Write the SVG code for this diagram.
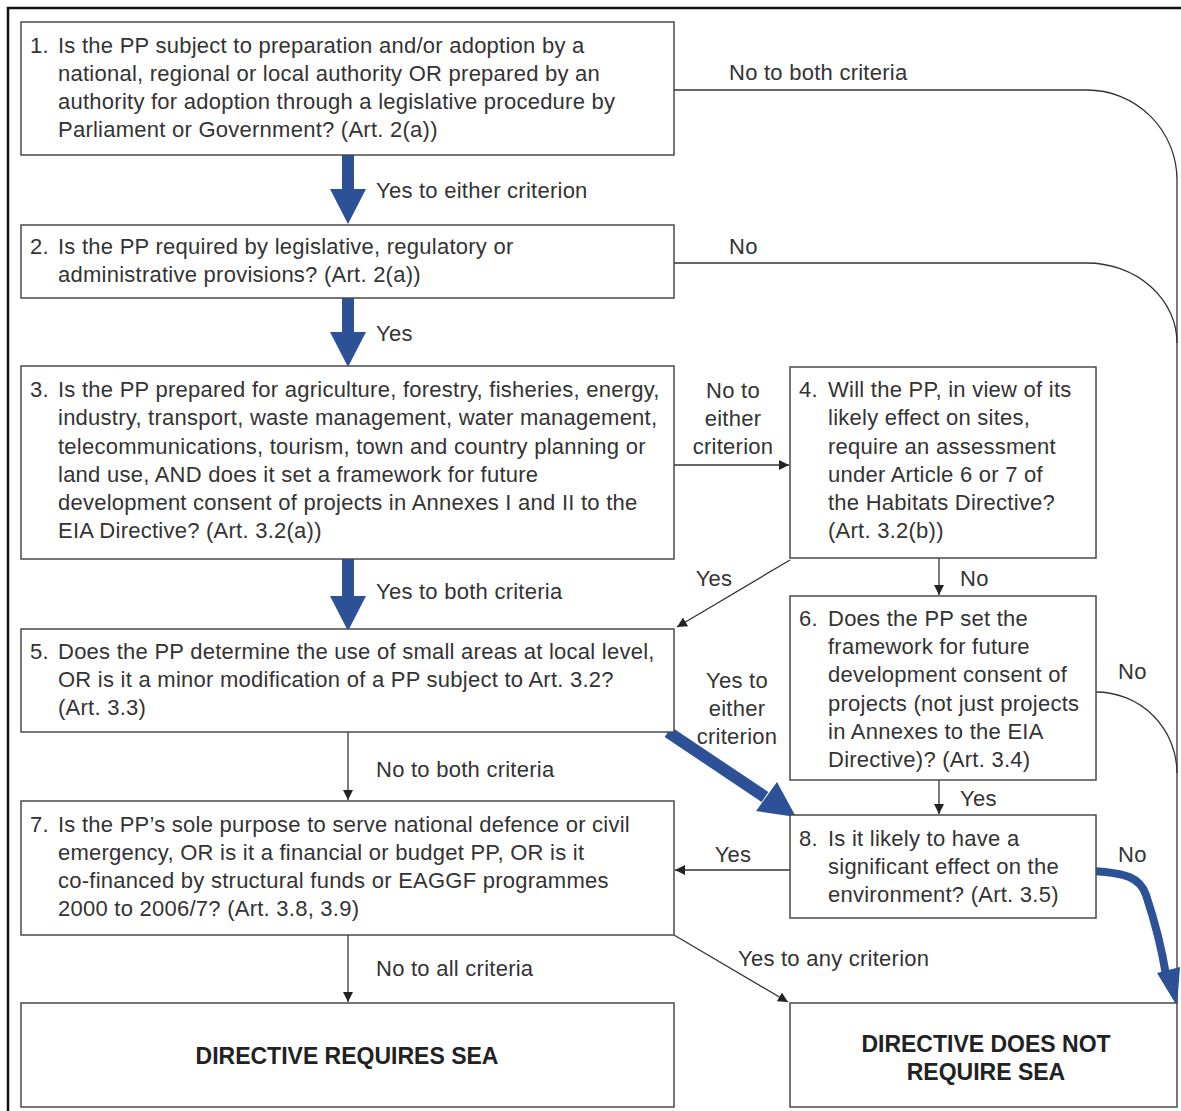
<svg xmlns="http://www.w3.org/2000/svg" width="1181" height="1111" viewBox="0 0 1181 1111">
<style>
.box{fill:#fff;stroke:#4a4a4a;stroke-width:1.5}
.t{font-family:"Liberation Sans",Arial,sans-serif;font-size:22px;letter-spacing:0.25px;fill:#333}
.b{font-family:"Liberation Sans",Arial,sans-serif;font-size:23px;font-weight:bold;fill:#222}
.c{text-anchor:middle}
.ln{fill:none;stroke:#333;stroke-width:1.3}
.bl{fill:#2c5196;stroke:none}
</style>
<defs>
<marker id="ah" viewBox="0 0 10 10" refX="10" refY="5" markerWidth="10" markerHeight="10" markerUnits="userSpaceOnUse" orient="auto">
<path d="M0,0 L10,5 L0,10 z" fill="#222"/>
</marker>
</defs>
<rect width="1181" height="1111" fill="#fff"/>
<path d="M8,1111 V8 H1181" fill="none" stroke="#111" stroke-width="2.5"/>

<g id="connectors">
<path class="ln" d="M674,90 H1087 A90,90 0 0 1 1177,180 V1003"/>
<path class="ln" d="M674,263 H1087 A90,80 0 0 1 1177,343"/>
<path class="ln" d="M1096,692 A81,81 0 0 1 1177,773"/>
<path class="ln" d="M674,465 H789" marker-end="url(#ah)"/>
<path class="ln" d="M790,560 L677,627" marker-end="url(#ah)"/>
<path class="ln" d="M939,558 V595" marker-end="url(#ah)"/>
<path class="ln" d="M939,780 V814" marker-end="url(#ah)"/>
<path class="ln" d="M790,870 H675" marker-end="url(#ah)"/>
<path class="ln" d="M348,732 V800" marker-end="url(#ah)"/>
<path class="ln" d="M348,935 V1002" marker-end="url(#ah)"/>
<path class="ln" d="M674,935 L788,1002" marker-end="url(#ah)"/>
<path class="bl" d="M342,155 H354 V189 H366 L348,224 L330,189 H342 Z"/>
<path class="bl" d="M342,298 H354 V332 H366 L348,367 L330,332 H342 Z"/>
<path class="bl" d="M342,559 H354 V596 H366 L348,631 L330,596 H342 Z"/>
<path d="M668,732 L765,797" stroke="#2c5196" stroke-width="12" fill="none"/>
<path class="bl" d="M756,811 L777,782 L796,817 Z"/>
<path d="M1093,871 C1125,873 1140,877 1146,895 C1156,925 1162,950 1166,975" stroke="#2c5196" stroke-width="8" fill="none"/>
<path class="bl" d="M1157,973 L1180,967 L1177,1006 Z"/>
</g>

<g id="n1">
<rect class="box" x="21" y="22" width="653" height="133"/>
<text class="t" x="30" y="53">1.</text>
<text class="t" x="58" y="53">Is the PP subject to preparation and/or adoption by a</text>
<text class="t" x="58" y="81">national, regional or local authority OR prepared by an</text>
<text class="t" x="58" y="109">authority for adoption through a legislative procedure by</text>
<text class="t" x="58" y="137">Parliament or Government? (Art. 2(a))</text>
</g>
<g id="n2">
<rect class="box" x="21" y="225" width="653" height="73"/>
<text class="t" x="30" y="254">2.</text>
<text class="t" x="58" y="254">Is the PP required by legislative, regulatory or</text>
<text class="t" x="58" y="282">administrative provisions? (Art. 2(a))</text>
</g>
<g id="n3">
<rect class="box" x="21" y="366" width="653" height="193"/>
<text class="t" x="30" y="397">3.</text>
<text class="t" x="58" y="397">Is the PP prepared for agriculture, forestry, fisheries, energy,</text>
<text class="t" x="58" y="425">industry, transport, waste management, water management,</text>
<text class="t" x="58" y="454">telecommunications, tourism, town and country planning or</text>
<text class="t" x="58" y="482">land use, AND does it set a framework for future</text>
<text class="t" x="58" y="510">development consent of projects in Annexes I and II to the</text>
<text class="t" x="58" y="538">EIA Directive? (Art. 3.2(a))</text>
</g>
<g id="n4">
<rect class="box" x="790" y="367" width="306" height="191"/>
<text class="t" x="799" y="397">4.</text>
<text class="t" x="828" y="397">Will the PP, in view of its</text>
<text class="t" x="828" y="425">likely effect on sites,</text>
<text class="t" x="828" y="454">require an assessment</text>
<text class="t" x="828" y="482">under Article 6 or 7 of</text>
<text class="t" x="828" y="510">the Habitats Directive?</text>
<text class="t" x="828" y="538">(Art. 3.2(b))</text>
</g>
<g id="n5">
<rect class="box" x="21" y="629" width="653" height="103"/>
<text class="t" x="30" y="659">5.</text>
<text class="t" x="58" y="659">Does the PP determine the use of small areas at local level,</text>
<text class="t" x="58" y="687">OR is it a minor modification of a PP subject to Art. 3.2?</text>
<text class="t" x="58" y="715">(Art. 3.3)</text>
</g>
<g id="n6">
<rect class="box" x="790" y="596" width="306" height="184"/>
<text class="t" x="799" y="626">6.</text>
<text class="t" x="828" y="626">Does the PP set the</text>
<text class="t" x="828" y="654">framework for future</text>
<text class="t" x="828" y="682">development consent of</text>
<text class="t" x="828" y="711">projects (not just projects</text>
<text class="t" x="828" y="739">in Annexes to the EIA</text>
<text class="t" x="828" y="767">Directive)? (Art. 3.4)</text>
</g>
<g id="n7">
<rect class="box" x="21" y="801" width="653" height="134"/>
<text class="t" x="30" y="832">7.</text>
<text class="t" x="58" y="832">Is the PP’s sole purpose to serve national defence or civil</text>
<text class="t" x="58" y="860">emergency, OR is it a financial or budget PP, OR is it</text>
<text class="t" x="58" y="888">co-financed by structural funds or EAGGF programmes</text>
<text class="t" x="58" y="916">2000 to 2006/7? (Art. 3.8, 3.9)</text>
</g>
<g id="n8">
<rect class="box" x="790" y="815" width="306" height="103"/>
<text class="t" x="799" y="846">8.</text>
<text class="t" x="828" y="846">Is it likely to have a</text>
<text class="t" x="828" y="874">significant effect on the</text>
<text class="t" x="828" y="902">environment? (Art. 3.5)</text>
</g>
<g id="req">
<rect class="box" x="21" y="1003" width="653" height="104"/>
<text class="b c" x="347" y="1064">DIRECTIVE REQUIRES SEA</text>
</g>
<g id="notreq">
<rect class="box" x="790" y="1003" width="387" height="104"/>
<text class="b c" x="986" y="1052">DIRECTIVE DOES NOT</text>
<text class="b c" x="986" y="1080">REQUIRE SEA</text>
</g>

<g id="labels">
<text class="t" x="729" y="80">No to both criteria</text>
<text class="t" x="376" y="198">Yes to either criterion</text>
<text class="t" x="729" y="254">No</text>
<text class="t" x="376" y="341">Yes</text>
<text class="t c" x="733" y="398">No to</text>
<text class="t c" x="733" y="426">either</text>
<text class="t c" x="733" y="454">criterion</text>
<text class="t c" x="714" y="586">Yes</text>
<text class="t" x="960" y="586">No</text>
<text class="t" x="376" y="599">Yes to both criteria</text>
<text class="t" x="1118" y="679">No</text>
<text class="t c" x="737" y="688">Yes to</text>
<text class="t c" x="737" y="716">either</text>
<text class="t c" x="737" y="744">criterion</text>
<text class="t" x="376" y="777">No to both criteria</text>
<text class="t" x="960" y="806">Yes</text>
<text class="t c" x="733" y="862">Yes</text>
<text class="t" x="1118" y="862">No</text>
<text class="t" x="376" y="976">No to all criteria</text>
<text class="t" x="738" y="966">Yes to any criterion</text>
</g>
</svg>
